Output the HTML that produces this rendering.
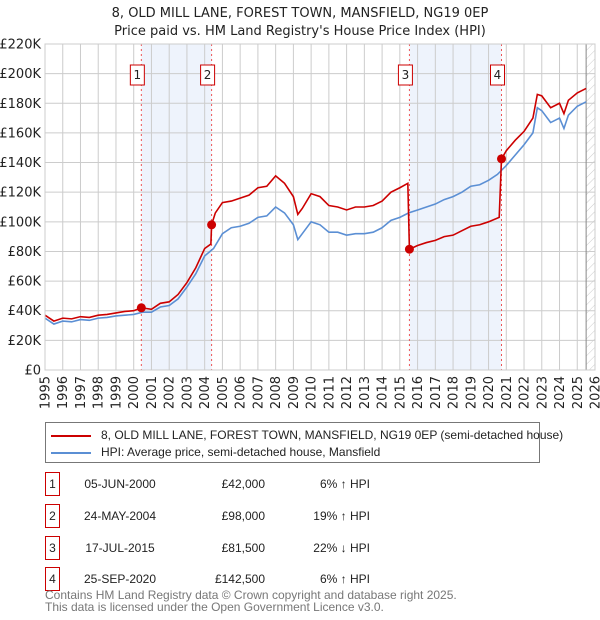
<!DOCTYPE html>
<html><head><meta charset="utf-8"><style>
body{margin:0;background:#fff;font-family:"Liberation Sans","DejaVu Sans",sans-serif;}
#wrap{position:relative;width:600px;height:620px;overflow:hidden;}
</style></head><body>
<div id="wrap">
<svg id="chart" width="600" height="620" xmlns="http://www.w3.org/2000/svg" font-family="DejaVu Sans, Liberation Sans, sans-serif">
<defs><pattern id="hatch" width="6" height="6" patternUnits="userSpaceOnUse" patternTransform="rotate(45)"><line x1="0" y1="0" x2="0" y2="6" stroke="#ccc" stroke-width="1"/></pattern></defs>
<text x="300" y="17" text-anchor="middle" font-size="13" fill="#222">8, OLD MILL LANE, FOREST TOWN, MANSFIELD, NG19 0EP</text>
<text x="300" y="35" text-anchor="middle" font-size="13" fill="#222">Price paid vs. HM Land Registry's House Price Index (HPI)</text>
<g id="plot"></g>
</svg>
<div style="position:absolute;left:45px;top:422px;width:493px;height:39px;border:1px solid #777;font-size:12px;color:#222;">
 <div style="position:absolute;left:5px;top:5px;white-space:nowrap"><span style="display:inline-block;width:40px;height:2px;background:#cc0000;vertical-align:middle;margin-right:10px"></span>8, OLD MILL LANE, FOREST TOWN, MANSFIELD, NG19 0EP (semi-detached house)</div>
 <div style="position:absolute;left:5px;top:22px;white-space:nowrap"><span style="display:inline-block;width:40px;height:2px;background:#5b8fd4;vertical-align:middle;margin-right:10px"></span>HPI: Average price, semi-detached house, Mansfield</div>
</div>
<div id="table" style="font-size:12px;color:#222"></div>
<div style="position:absolute;left:45px;top:589px;font-size:12px;color:#777;line-height:12px">Contains HM Land Registry data © Crown copyright and database right 2025.<br>This data is licensed under the Open Government Licence v3.0.</div>
</div>
<script>
const hpiYears=[1995,1995.5,1996,1996.5,1997,1997.5,1998,1998.5,1999,1999.5,2000,2000.5,2001,2001.5,2002,2002.5,2003,2003.5,2004,2004.5,2005,2005.5,2006,2006.5,2007,2007.5,2008,2008.5,2009,2009.25,2009.5,2010,2010.5,2011,2011.5,2012,2012.5,2013,2013.5,2014,2014.5,2015,2015.5,2016,2016.5,2017,2017.5,2018,2018.5,2019,2019.5,2020,2020.5,2021,2021.5,2022,2022.5,2022.75,2023,2023.5,2024,2024.25,2024.5,2025,2025.5];
const hpiValues=[35,31,33,32.5,34,33.5,35,35.5,36.5,37,37.5,39,39,42.5,43.5,48,56,65,77,82,92,96,97,99,103,104,110,106,98,88,92,100,98,93,93,91,92,92,93,96,101,103,106,108,110,112,115,117,120,124,125,128,132,138,145,152,160,177,175,167,170,163,172,178,181];
const priceYears=[1995,1995.5,1996,1996.5,1997,1997.5,1998,1998.5,1999,1999.5,2000,2000.43,2001,2001.5,2002,2002.5,2003,2003.5,2004,2004.35,2004.39,2004.6,2005,2005.5,2006,2006.5,2007,2007.5,2008,2008.5,2009,2009.25,2009.5,2010,2010.5,2011,2011.5,2012,2012.5,2013,2013.5,2014,2014.5,2015,2015.45,2015.54,2016,2016.5,2017,2017.5,2018,2018.5,2019,2019.5,2020,2020.6,2020.73,2021,2021.5,2022,2022.5,2022.75,2023,2023.5,2024,2024.25,2024.5,2025,2025.5];
const priceValues=[37,33,35,34.5,36,35.5,37,37.5,38.5,39.5,40,42,41,45,46,51,59,69,82,85,98,106,113,114,116,118,123,124,131,126,117,105,109,119,117,111,110,108,110,110,111,114,120,123,126,81.5,84,86,87.5,90,91,94,97,98,100,103,142.5,148,155,161,170,186,185,177,180,173,182,187,190];
const saleLabels=["1","2","3","4"];
const saleYears=[2000.43,2004.39,2015.54,2020.73];
const salePrices=[42,98,81.5,142.5];
const saleDates=["05-JUN-2000","24-MAY-2004","17-JUL-2015","25-SEP-2020"];
const salePriceText=["£42,000","£98,000","£81,500","£142,500"];
const saleDiffs=["6% \u2191 HPI","19% \u2191 HPI","22% \u2193 HPI","6% \u2191 HPI"];
const yTicks=[0,20,40,60,80,100,120,140,160,180,200,220];
const yTickLabels=["£0","£20K","£40K","£60K","£80K","£100K","£120K","£140K","£160K","£180K","£200K","£220K"];
const xTicks=[1995,1996,1997,1998,1999,2000,2001,2002,2003,2004,2005,2006,2007,2008,2009,2010,2011,2012,2013,2014,2015,2016,2017,2018,2019,2020,2021,2022,2023,2024,2025,2026];

const X0=45,X1=595,Y0=370,Y1=44;
const xs=y=>X0+(y-1995)/(2026-1995)*(X1-X0);
const ys=v=>Y0-v/220*(Y0-Y1);
const NS="http://www.w3.org/2000/svg";
const plot=document.getElementById('plot');
function mk(t,a,p){const e=document.createElementNS(NS,t);for(const k in a)e.setAttribute(k,a[k]);(p||plot).appendChild(e);return e;}

for(let i=0;i<saleYears.length;i+=2){
 const r=mk('rect',{x:xs(saleYears[i]),y:Y1,width:xs(saleYears[i+1])-xs(saleYears[i]),height:Y0-Y1,fill:'#eef3fc'});
 
 
}
const hz=mk('rect',{x:xs(2025.5),y:Y1,width:X1-xs(2025.5),height:Y0-Y1,fill:'url(#hatch)'});


yTicks.forEach((v,i)=>{
 const l=mk('line',{x1:X0,x2:X1,y1:ys(v),y2:ys(v),stroke:'#ccc','stroke-width':1});
 
 
 const t=mk('text',{x:X0-4,y:ys(v)+4.5,'text-anchor':'end','font-size':13,fill:'#222'});
 t.textContent=yTickLabels[i];
 
 
});
xTicks.forEach(y=>{
 const l=mk('line',{x1:xs(y),x2:xs(y),y1:Y1,y2:Y0,stroke:'#ccc','stroke-width':1});
 
 
 const t=mk('text',{x:0,y:0,'text-anchor':'end','font-size':13,fill:'#222',transform:`translate(${xs(y)+4.5},${Y0+6}) rotate(-90)`});
 t.textContent=y;
 
 
});
const nl=mk('line',{x1:xs(2025.5),x2:xs(2025.5),y1:Y1,y2:Y0,stroke:'#888','stroke-width':1});


saleYears.forEach((y,i)=>{
 const l=mk('line',{x1:xs(y),x2:xs(y),y1:Y1,y2:Y0,stroke:'#ee5555','stroke-width':1,'stroke-dasharray':'2,3'});
 
 
});
const hp=mk('polyline',{points:hpiYears.map((y,i)=>xs(y)+','+ys(hpiValues[i])).join(' '),fill:'none',stroke:'#5b8fd4','stroke-width':1.6});


const pp=mk('polyline',{points:priceYears.map((y,i)=>xs(y)+','+ys(priceValues[i])).join(' '),fill:'none',stroke:'#cc0000','stroke-width':1.6});


saleYears.forEach((y,i)=>{
 const c=mk('circle',{cx:xs(y),cy:ys(salePrices[i]),r:4.5,fill:'#cc0000'});
 
 
 const g=mk('g',{});
 
 
 mk('rect',{x:xs(y)-11,y:65,width:14,height:20,fill:'#fff',stroke:'#cc0000','stroke-width':1},g);
 const t=mk('text',{x:xs(y)-4,y:79,'text-anchor':'middle','font-size':12,fill:'#222'},g);
 t.textContent=saleLabels[i];
});
mk('rect',{x:X0,y:Y1,width:X1-X0,height:Y0-Y1,fill:'none',stroke:'#ccc'});

const tb=document.getElementById('table');
const rowY=[472,504,536,567];
saleLabels.forEach((s,i)=>{
 const r=document.createElement('div');
 
 
 r.style.cssText=`position:absolute;left:0;top:${rowY[i]}px;width:600px;height:24px;`;
 r.innerHTML=`<div style="position:absolute;left:45px;top:0;width:13px;height:22px;border:1px solid #cc0000;text-align:center;line-height:22px">${s}</div>`+
 `<div style="position:absolute;left:60px;width:120px;text-align:center;line-height:24px">${saleDates[i]}</div>`+
 `<div style="position:absolute;left:165px;width:100px;text-align:right;line-height:24px">${salePriceText[i]}</div>`+
 `<div style="position:absolute;left:270px;width:100px;text-align:right;line-height:24px">${saleDiffs[i]}</div>`;
 tb.appendChild(r);
});
</script>
</body></html>
